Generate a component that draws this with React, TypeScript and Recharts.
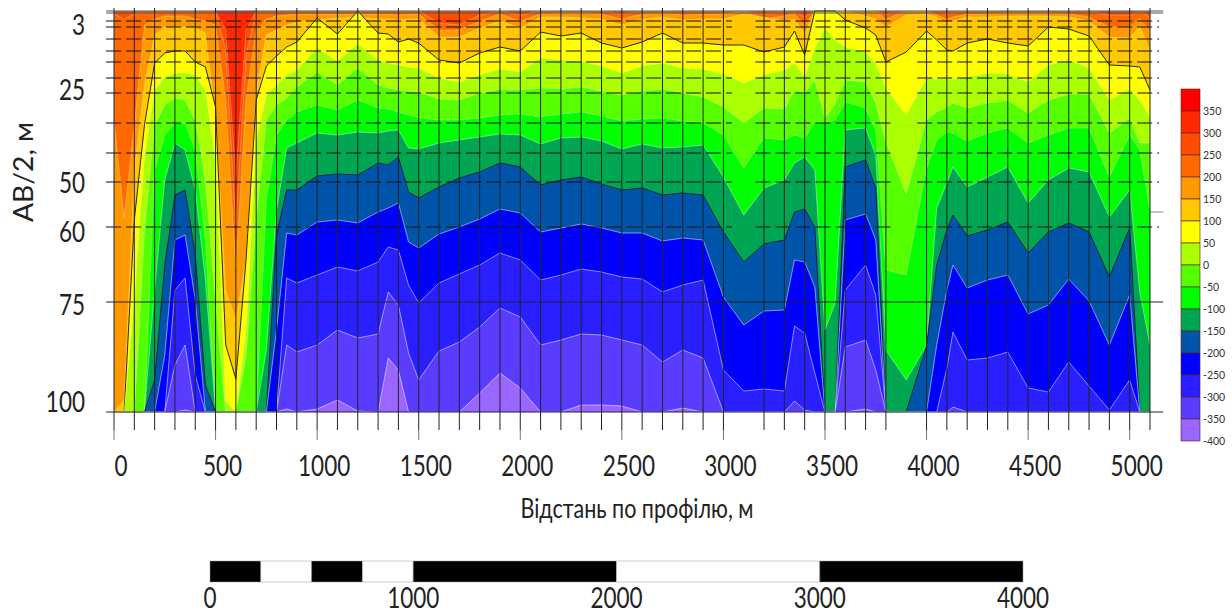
import { Area, Bar, BarChart, Cell, ComposedChart, ReferenceLine, XAxis, YAxis } from "recharts";

const FONT = "Lato, 'Open Sans', sans-serif";
const BOTTOM = 401;

// profile stations, m
const stations = [
  0, 50, 100, 150, 200, 250, 300, 350, 400, 450, 500, 550, 600, 650, 700, 750, 800, 850, 900,
  1000, 1100, 1200, 1300, 1350, 1400, 1450, 1500, 1600, 1700, 1800, 1900,
  2000, 2100, 2200, 2300, 2400, 2500, 2600, 2700, 2800, 2900,
  3000, 3100, 3200, 3300, 3350, 3400, 3450, 3500, 3550, 3600, 3700, 3750, 3800,
  3900, 4000, 4050, 4100, 4130, 4200, 4300, 4400, 4500, 4600, 4700, 4800, 4900, 5000, 5050, 5100,
];

// depth (plot rows, 0 = top, 401 = bottom) where each isoline is crossed
const depth300 = [
  0, 0, 0, 0, 0, 0, 0, 0, 0, 0, 0, 19, 166, 19, 0, 0, 0, 0, 0,
  0, 0, 0, 0, 0, 0, 0, 0, 0, 0, 0, 0,
  0, 0, 0, 0, 0, 0, 0, 0, 0, 0,
  0, 0, 0, 0, 0, 0, 0, 0, 0, 0, 0, 0, 0,
  0, 0, 0, 0, 0, 0, 0, 0, 0, 0, 0, 0, 0, 0, 0, 0,
];
const depth250 = [
  3, 8, 3, 0, 0, 0, 0, 0, 0, 0, 0, 39, 214, 44, 0, 0, 0, 0, 0,
  0, 0, 0, 0, 0, 0, 0, 0, 12, 14, 4, 0,
  4, 0, 0, 0, 0, 3, 0, 0, 0, 0,
  0, 0, 3, 0, 0, 6, 0, 0, 0, 0, 0, 0, 3,
  0, 0, 0, 2, 1, 0, 0, 0, 0, 0, 0, 0, 4, 4, 0, 6,
];
const depth200 = [
  109, 206, 114, 14, 8, 5, 5, 5, 8, 10, 14, 89, 256, 89, 19, 8, 5, 4, 3,
  3, 3, 3, 3, 3, 4, 3, 3, 19, 19, 10, 3,
  10, 3, 2, 2, 3, 8, 3, 2, 4, 3,
  3, 0, 8, 5, 3, 14, 0, 0, 0, 0, 0, 0, 8,
  0, 0, 4, 8, 6, 3, 3, 2, 2, 2, 3, 6, 16, 16, 8, 20,
];
const depth150 = [
  401, 389, 159, 74, 24, 16, 16, 16, 17, 22, 104, 279, 309, 249, 79, 24, 19, 14, 11,
  9, 7, 6, 8, 8, 9, 8, 8, 26, 26, 17, 10,
  17, 6, 6, 7, 8, 14, 8, 6, 9, 8,
  8, 3, 6, 10, 8, 22, 0, 0, 0, 0, 5, 8, 16,
  4, 3, 6, 12, 10, 6, 6, 5, 5, 5, 6, 10, 26, 27, 15, 40,
];
const depth100 = [
  401, 401, 209, 114, 52, 42, 40, 40, 51, 56, 96, 334, 368, 249, 89, 55, 45, 36, 31,
  7, 23, 0, 22, 23, 31, 28, 32, 49, 52, 42, 36,
  40, 21, 25, 22, 32, 37, 31, 22, 32, 32,
  34, 34, 41, 36, 20, 44, 0, 0, 0, 9, 17, 24, 51,
  41, 20, 29, 39, 40, 32, 28, 32, 35, 16, 18, 25, 54, 55, 56, 79,
];
const depth50 = [
  401, 401, 289, 144, 79, 66, 62, 62, 64, 79, 150, 390, 401, 320, 129, 84, 74, 64, 59,
  37, 50, 33, 49, 52, 54, 56, 57, 67, 71, 64, 58,
  61, 47, 49, 50, 55, 62, 55, 52, 57, 58,
  63, 72, 64, 59, 52, 66, 37, 17, 29, 36, 41, 53, 77,
  104, 67, 68, 68, 68, 66, 62, 63, 71, 54, 49, 57, 89, 78, 89, 106,
];
const depth0 = [
  401, 401, 401, 219, 114, 94, 87, 89, 109, 169, 289, 401, 401, 345, 209, 109, 94, 87, 76,
  61, 74, 57, 74, 77, 79, 80, 81, 88, 89, 82, 78,
  79, 77, 78, 76, 80, 84, 80, 78, 82, 86,
  96, 112, 97, 98, 79, 82, 69, 107, 93, 69, 71, 92, 131,
  183, 109, 101, 96, 92, 97, 92, 89, 102, 89, 83, 83, 122, 107, 132, 132,
];
const depthM50 = [
  401, 401, 401, 401, 159, 124, 112, 112, 139, 229, 401, 401, 401, 401, 401, 189, 124, 109, 101,
  94, 99, 89, 97, 98, 101, 104, 107, 109, 109, 107, 104,
  103, 106, 103, 101, 105, 110, 108, 107, 110, 112,
  124, 157, 127, 129, 124, 127, 111, 112, 109, 91, 97, 119, 259,
  264, 157, 129, 121, 122, 130, 122, 117, 132, 124, 117, 117, 166, 124, 139, 199,
];
const depthM100 = [
  401, 401, 401, 401, 279, 169, 132, 139, 179, 269, 401, 401, 401, 401, 401, 339, 199, 137, 132,
  122, 124, 121, 122, 120, 119, 137, 138, 132, 129, 126, 123,
  124, 133, 127, 126, 130, 138, 133, 137, 136, 134,
  166, 204, 177, 169, 152, 146, 159, 319, 292, 119, 117, 144, 339,
  369, 334, 197, 172, 156, 176, 166, 156, 192, 169, 157, 161, 206, 179, 282, 334,
];
const depthM150 = [
  401, 401, 401, 401, 369, 254, 184, 179, 244, 374, 401, 401, 401, 401, 401, 401, 224, 179, 179,
  165, 163, 164, 152, 154, 146, 181, 187, 176, 167, 161, 152,
  156, 174, 169, 166, 173, 179, 177, 184, 182, 184,
  221, 251, 233, 229, 201, 198, 216, 401, 401, 156, 149, 177, 401,
  401, 335, 254, 219, 204, 225, 219, 211, 242, 221, 212, 221, 266, 217, 401, 401,
];
const depthM200 = [
  401, 401, 401, 401, 401, 344, 229, 224, 289, 401, 401, 401, 401, 401, 401, 401, 319, 222, 224,
  211, 209, 212, 201, 197, 192, 231, 237, 223, 216, 208, 198,
  202, 221, 217, 213, 217, 222, 222, 230, 227, 229,
  286, 314, 300, 299, 249, 251, 276, 401, 401, 209, 203, 229, 401,
  401, 401, 334, 279, 254, 277, 269, 264, 303, 294, 268, 290, 334, 284, 401, 401,
];
const depthM250 = [
  401, 401, 401, 401, 401, 401, 279, 267, 364, 401, 401, 401, 401, 401, 401, 401, 401, 267, 272,
  264, 256, 260, 251, 236, 239, 274, 292, 272, 263, 254, 242,
  249, 269, 264, 258, 261, 266, 268, 281, 274, 269,
  359, 380, 378, 380, 315, 322, 362, 401, 401, 279, 254, 284, 401,
  401, 401, 401, 357, 321, 349, 347, 341, 377, 381, 351, 375, 399, 369, 401, 401,
];
const depthM300 = [
  401, 401, 401, 401, 401, 401, 354, 334, 401, 401, 401, 401, 401, 401, 401, 401, 401, 334, 341,
  334, 319, 327, 323, 281, 294, 342, 369, 340, 331, 316, 297,
  306, 334, 329, 323, 324, 329, 334, 351, 339, 347,
  401, 401, 401, 401, 390, 399, 401, 401, 401, 336, 329, 359, 401,
  401, 401, 401, 401, 396, 401, 401, 401, 401, 401, 401, 401, 401, 401, 401, 401,
];
const depthM350 = [
  401, 401, 401, 401, 401, 401, 401, 399, 401, 401, 401, 401, 401, 401, 401, 401, 401, 398, 401,
  398, 389, 400, 401, 347, 359, 401, 401, 401, 401, 382, 362,
  377, 401, 401, 394, 394, 395, 401, 401, 397, 401,
  401, 401, 401, 401, 401, 401, 401, 401, 401, 401, 398, 401, 401,
  401, 401, 401, 401, 401, 401, 401, 401, 401, 401, 401, 401, 401, 401, 401, 401,
];

const legendLabels = ["350", "300", "250", "200", "150", "100", "50", "0", "-50", "-100", "-150", "-200", "-250", "-300", "-350", "-400"];
const legendColors = ["#ff0000", "#ff2a00", "#ff4d00", "#ff6a00", "#ff9900", "#ffc800", "#ffff00", "#aaff00", "#55ff00", "#00ff00", "#00a651", "#0055aa", "#0000ff", "#2a1fff", "#5a3cff", "#9966ff"];

const xTicks = [0, 500, 1000, 1500, 2000, 2500, 3000, 3500, 4000, 4500, 5000];
const depthTickRows = [14, 79, 172, 221, 294, 391];
const depthTickLabels = ["3", "25", "50", "60", "75", "100"];
const gridRowsDashed = [10, 16, 28, 40, 51, 67, 82, 112, 142, 171, 216];
const gridRowsSolid = [0, 2, 291, 401];
const gridStations = [
  0, 100, 200, 300, 400, 500, 600, 700, 800, 900, 1000, 1100, 1200, 1300, 1400, 1500, 1600, 1700, 1800, 1900, 2000,
  2100, 2200, 2300, 2400, 2500, 2600, 2700, 2800, 2900, 3000, 3200, 3300, 3400, 3500, 3600, 3700, 3800,
  4000, 4100, 4200, 4300, 4400, 4500, 4600, 4700, 4800, 4900, 5000, 5100,
];
const dashRuns = [[-39, 3042], [3158, 3845], [3954, 5145]];

const scaleSegments = [250, 250, 250, 250, 1000, 1000, 1000];
const scaleColors = ["#000", "#fff", "#000", "#fff", "#000", "#fff", "#000"];
const scaleTicks = [0, 1000, 2000, 3000, 4000];

const isolines = [
  { key: "d300", values: depth300, fill: "#ff4d00", stroke: "rgba(255,255,255,0.25)" },
  { key: "d250", values: depth250, fill: "#ff6a00", stroke: "rgba(255,255,255,0.25)" },
  { key: "d200", values: depth200, fill: "#ff9900", stroke: "rgba(255,255,255,0.25)" },
  { key: "d150", values: depth150, fill: "#ffc800", stroke: "rgba(255,255,255,0.25)" },
  { key: "d100", values: depth100, fill: "#ffff00", stroke: "#2a2a10" },
  { key: "d50", values: depth50, fill: "#aaff00", stroke: "rgba(255,255,255,0.3)" },
  { key: "d0", values: depth0, fill: "#55ff00", stroke: "rgba(255,255,255,0.3)" },
  { key: "dM50", values: depthM50, fill: "#00ff00", stroke: "rgba(255,255,255,0.3)" },
  { key: "dM100", values: depthM100, fill: "#00a651", stroke: "rgba(255,255,255,0.4)" },
  { key: "dM150", values: depthM150, fill: "#0055aa", stroke: "#12283a" },
  { key: "dM200", values: depthM200, fill: "#0000ff", stroke: "rgba(255,255,255,0.5)" },
  { key: "dM250", values: depthM250, fill: "#2a1fff", stroke: "rgba(255,255,255,0.5)" },
  { key: "dM300", values: depthM300, fill: "#5a3cff", stroke: "rgba(255,255,255,0.5)" },
  { key: "dM350", values: depthM350, fill: "#9966ff", stroke: "rgba(255,255,255,0.5)" },
];

const rows = stations.map((x, i) => {
  const row: Record<string, number> = { x };
  isolines.forEach((line) => {
    row[line.key] = line.values[i];
  });
  return row;
});

const legendRows = legendLabels.map((label) => ({ label, value: 1 }));

const scaleRow: Record<string, number | string> = { name: "scale" };
scaleSegments.forEach((v, i) => {
  scaleRow["s" + i] = v;
});

const BigTick = ({ x, y, payload, shiftX, shiftY }: any) => (
  <text
    transform={`translate(${x + shiftX} ${y + shiftY}) scale(0.9 1.15)`}
    textAnchor="middle"
    fontFamily={FONT}
    fontSize={25}
    fill="#222"
  >
    {payload.value}
  </text>
);

const DepthTick = ({ x, y, payload }: any) => (
  <text
    transform={`translate(${x - 21} ${y + 10}) scale(0.9 1.15)`}
    textAnchor="end"
    fontFamily={FONT}
    fontSize={25}
    fill="#222"
  >
    {depthTickLabels[depthTickRows.indexOf(payload.value)]}
  </text>
);

const LegendTick = ({ x, y, payload }: any) => (
  <text x={x - 5} y={y + 15} fontFamily={FONT} fontSize={10.5} fill="#333">
    {payload.value}
  </text>
);

export default function App() {
  return (
    <div style={{ position: "absolute", left: 0, top: 0, width: 1232, height: 614, background: "#fff", overflow: "hidden" }}>
      <div style={{ position: "absolute", left: 0, top: 0 }}>
        <ComposedChart width={1232} height={540} data={rows} margin={{ top: 11, right: 82, bottom: 78, left: 54 }}>
          <XAxis
            dataKey="x"
            type="number"
            domain={[0, 5100]}
            ticks={xTicks}
            axisLine={false}
            tickLine={false}
            height={50}
            interval={0}
            tick={<BigTick shiftX={7} shiftY={56} />}
          />
          <YAxis
            type="number"
            reversed
            domain={[0, BOTTOM]}
            ticks={depthTickRows}
            axisLine={false}
            tickLine={false}
            width={60}
            interval={0}
            tick={<DepthTick />}
          />
          <Area dataKey={() => 0} baseValue={BOTTOM} type="linear" fill="#ff2a00" fillOpacity={1} stroke="none" dot={false} activeDot={false} isAnimationActive={false} />
          {isolines.map((line) => (
            <Area
              key={line.key}
              dataKey={line.key}
              baseValue={BOTTOM}
              type="linear"
              fill={line.fill}
              fillOpacity={1}
              stroke={line.stroke}
              strokeWidth={1}
              dot={false}
              activeDot={false}
              isAnimationActive={false}
            />
          ))}
          {gridRowsDashed.flatMap((r) =>
            dashRuns.map(([a, b]) => (
              <ReferenceLine
                key={`d${r}-${a}`}
                segment={[{ x: a, y: r }, { x: b, y: r }]}
                ifOverflow="visible"
                stroke="#111"
                strokeDasharray="15 5"
              />
            ))
          )}
          {gridRowsSolid.map((r) => (
            <ReferenceLine
              key={`s${r}`}
              segment={[{ x: -39, y: r }, { x: 5165, y: r }]}
              ifOverflow="visible"
              stroke={r < 10 ? "#555" : "#222"}
            />
          ))}
          <ReferenceLine segment={[{ x: 5100, y: 201 }, { x: 5165, y: 201 }]} ifOverflow="visible" stroke="#888" />
          {gridStations.map((x) => (
            <ReferenceLine key={`v${x}`} segment={[{ x, y: -3 }, { x, y: 419 }]} ifOverflow="visible" stroke="#222" />
          ))}
          {xTicks.map((x) => (
            <ReferenceLine key={`m${x}`} segment={[{ x, y: 419 }, { x, y: 429 }]} ifOverflow="visible" stroke="#777" />
          ))}
          <text transform="translate(33 172) rotate(-90)" textAnchor="middle" fontFamily={FONT} fontSize={27} textLength={100} lengthAdjust="spacingAndGlyphs" fill="#222">
            AB/2, м
          </text>
          <text x={637} y={518} textAnchor="middle" fontFamily={FONT} fontSize={27} textLength={233} lengthAdjust="spacingAndGlyphs" fill="#222">
            Відстань по профілю, м
          </text>
        </ComposedChart>
      </div>

      <div style={{ position: "absolute", left: 1170, top: 80 }}>
        <BarChart
          width={62}
          height={372}
          layout="vertical"
          data={legendRows}
          barCategoryGap={0}
          margin={{ top: 9, right: 0, bottom: 11, left: 11 }}
        >
          <XAxis type="number" domain={[0, 1]} hide />
          <YAxis
            type="category"
            dataKey="label"
            orientation="right"
            width={32}
            axisLine={false}
            tickLine={false}
            interval={0}
            tick={<LegendTick />}
          />
          <Bar dataKey="value" stroke="#5a2020" strokeOpacity={0.6} isAnimationActive={false}>
            {legendRows.map((row, i) => (
              <Cell key={row.label} fill={legendColors[i]} />
            ))}
          </Bar>
        </BarChart>
      </div>

      <div style={{ position: "absolute", left: 0, top: 540 }}>
        <BarChart
          width={1232}
          height={74}
          layout="vertical"
          data={[scaleRow]}
          barCategoryGap={0}
          margin={{ top: 21, right: 209, bottom: 0, left: 210 }}
        >
          <XAxis
            type="number"
            domain={[0, 4000]}
            ticks={scaleTicks}
            axisLine={false}
            tickLine={false}
            height={32}
            interval={0}
            tick={<BigTick shiftX={0} shiftY={18} />}
          />
          <YAxis type="category" dataKey="name" hide />
          {scaleSegments.map((_, i) => (
            <Bar key={i} dataKey={"s" + i} stackId="scale" fill={scaleColors[i]} stroke="#999" strokeWidth={0.5} isAnimationActive={false} />
          ))}
        </BarChart>
      </div>
    </div>
  );
}
